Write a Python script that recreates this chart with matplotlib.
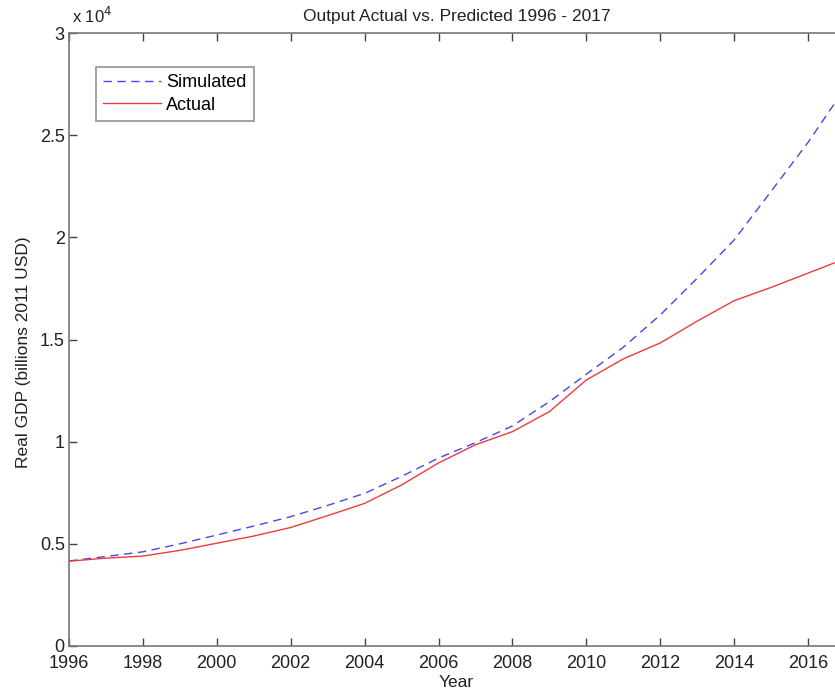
import matplotlib
matplotlib.use("Agg")
import matplotlib.pyplot as plt
from matplotlib.ticker import FuncFormatter

plt.rcParams['font.family'] = ['Liberation Sans', 'DejaVu Sans']

years = list(range(1996, 2018))
simulated = [4160, 4380, 4610, 5000, 5430, 5870, 6330, 6880, 7470, 8300, 9200,
             9950, 10770, 11960, 13300, 14620, 16200, 18000, 19870, 22250, 24650, 27300]
actual = [4150, 4300, 4400, 4680, 5030, 5380, 5800, 6380, 6980, 7880, 8960,
          9850, 10490, 11470, 13020, 14050, 14830, 15900, 16900, 17550, 18250, 18950]
xticks = list(range(1996, 2018, 2))
yticks = [0, 5000, 10000, 15000, 20000, 25000, 30000]

W, H = 835, 694
fig = plt.figure(figsize=(W / 100, H / 100), dpi=100)
ax = fig.add_axes([69 / W, (H - 646) / H, (845 - 69) / W, (646 - 33) / H])

ax.plot(years, simulated, linestyle=(0, (6, 4)), color='#4646ee', lw=1.0, label='Simulated')
ax.plot(years, actual, linestyle='-', color='#f03b3b', lw=1.0, label='Actual')

ax.set_xlim(1996, 2017)
ax.set_ylim(0, 30000)
ax.set_xticks(xticks)
ax.set_yticks(yticks)
ax.yaxis.set_major_formatter(FuncFormatter(lambda v, p: '%g' % (v / 1e4)))
ax.tick_params(direction='in', length=6, width=1, colors='#444444', labelcolor='#222222',
               labelsize=13, top=True, right=True, pad=3)
ax.tick_params(axis='x', pad=6.5)
for s in ax.spines.values():
    s.set_color('#777777')
    s.set_linewidth(1.2)

ax.set_title('Output Actual vs. Predicted 1996 - 2017', fontsize=12.5, color='#222222', pad=9)
ax.set_xlabel('Year', fontsize=12.5, color='#222222')
ax.xaxis.set_label_coords((456 - 69) / 776, -(675 - 646) / 613)
ax.set_ylabel('Real GDP (billions 2011 USD)', fontsize=12.5, color='#222222')
ax.yaxis.set_label_coords(-(69 - 31) / 776, (646 - 352) / 613)
fig.text(72 / W, 1 - 16 / H, r'x 10$^4$', fontsize=12, color='#222222', va='center', ha='left')

leg = ax.legend(loc='upper left', bbox_to_anchor=((96 - 69) / 776, (646 - 67) / 613),
                fontsize=13, frameon=True, fancybox=False, handlelength=3.2,
                borderpad=0.4, labelspacing=0.3, handletextpad=0.3, borderaxespad=0)
leg.get_frame().set_edgecolor('#777777')
leg.get_frame().set_linewidth(1.2)

fig.savefig('out.png', dpi=100)
